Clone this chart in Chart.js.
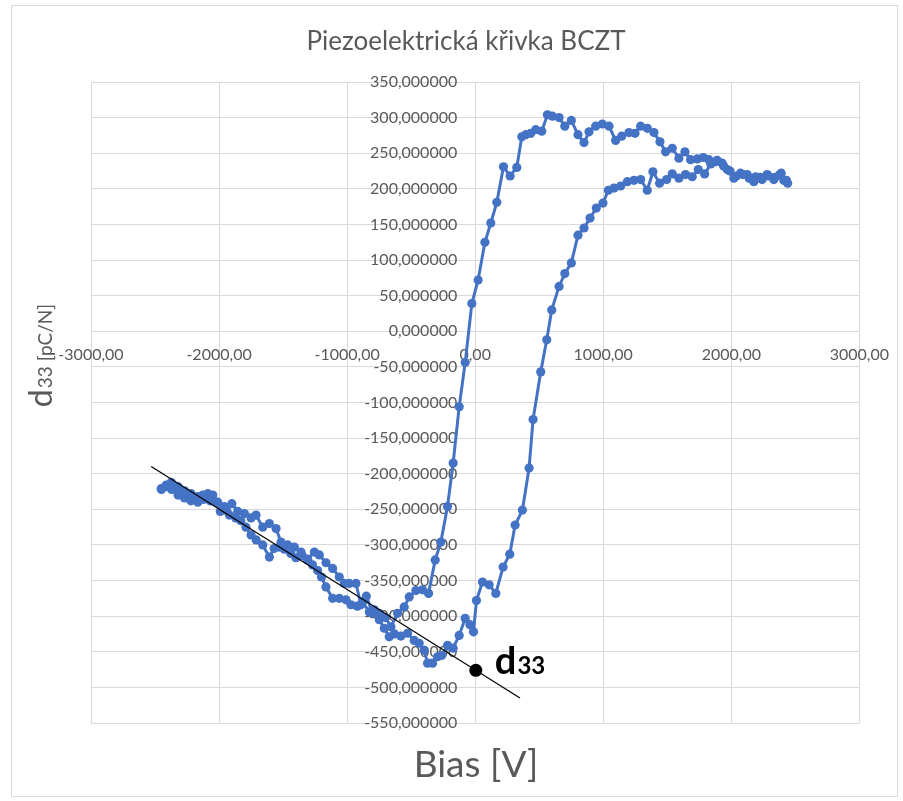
<!DOCTYPE html>
<html>
<head>
<meta charset="utf-8">
<script src="https://cdn.jsdelivr.net/npm/chart.js@4.4.1/dist/chart.umd.min.js"></script>
<style>
  html, body { margin: 0; padding: 0; background: #fff; }
  #wrap { width: 903px; height: 801px; position: relative; }
</style>
</head>
<body>
<div id="wrap"><canvas id="piezoChart" width="903" height="801"></canvas></div>
<script>
// lower branch, bias swept from -2450 V up to +2450 V
const biasAsc = [-2450, -2410, -2370, -2320, -2270, -2220, -2166, -2120, -2070, -2023, -1990, -1940, -1919, -1870, -1830, -1790, -1750, -1710, -1659, -1607, -1570, -1530, -1490, -1440, -1400, -1350, -1308, -1270, -1230, -1200, -1165, -1113, -1061, -1009, -970, -920, -879, -827, -788, -749, -710, -671, -630, -580, -528, -476, -437, -398, -372, -333, -294, -260, -216, -172, -125, -78, -41, -13, 10, 57, 109, 161, 218, 270, 312, 369, 421, 452, 512, 559, 598, 655, 700, 751, 803, 850, 897, 946, 998, 1040, 1084, 1136, 1188, 1240, 1292, 1344, 1388, 1440, 1495, 1539, 1591, 1643, 1695, 1742, 1792, 1840, 1890, 1940, 1990, 2040, 2090, 2140, 2190, 2240, 2290, 2340, 2390, 2430];
const d33Asc = [-222, -218, -222, -230, -234, -238, -240, -236, -238, -240, -253, -252, -258, -262, -266, -275, -286, -293, -300, -317, -305, -303, -306, -312, -318, -315, -321, -328, -336, -345, -359, -375, -375, -377, -384, -386, -380, -394, -391, -405, -417, -429, -425, -428, -424, -434, -438, -448, -466, -466, -457, -455, -441, -445, -427, -403, -412, -422, -378, -352, -356, -368, -331, -313, -272, -251, -192, -124, -57, -12, 30, 63, 81, 96, 135, 145, 159, 173, 180, 198, 201, 204, 210, 212, 213, 198, 224, 208, 213, 221, 215, 220, 217, 227, 221, 235, 240, 232, 225, 218, 220, 215, 217, 213, 218, 216, 222, 212];

// upper branch, bias swept back from +2450 V down to -2450 V
const biasDesc = [2440, 2410, 2379, 2332, 2280, 2228, 2176, 2124, 2072, 2020, 1968, 1929, 1877, 1825, 1781, 1734, 1682, 1638, 1591, 1539, 1487, 1443, 1396, 1344, 1292, 1248, 1201, 1144, 1097, 1045, 993, 941, 889, 850, 803, 751, 700, 655, 603, 564, 520, 473, 434, 395, 364, 325, 273, 221, 169, 122, 76, 23, -26, -78, -125, -172, -216, -268, -312, -364, -411, -463, -515, -554, -606, -658, -700, -749, -801, -850, -892, -931, -983, -1022, -1061, -1113, -1165, -1217, -1256, -1308, -1360, -1412, -1464, -1516, -1555, -1607, -1659, -1711, -1750, -1802, -1854, -1900, -1958, -2010, -2049, -2088, -2127, -2166, -2218, -2270, -2322, -2374, -2413, -2452];
const d33Desc = [208, 212, 220, 213, 220, 216, 210, 220, 222, 215, 227, 236, 238, 241, 244, 242, 241, 252, 243, 257, 252, 266, 279, 285, 288, 278, 279, 274, 268, 288, 291, 288, 280, 265, 276, 296, 288, 300, 302, 304, 281, 283, 278, 276, 273, 230, 218, 231, 181, 152, 125, 72, 39, -44, -106, -185, -246, -296, -321, -368, -363, -364, -373, -387, -396, -415, -402, -396, -396, -372, -384, -354, -354, -354, -345, -333, -325, -314, -310, -320, -310, -303, -300, -296, -277, -270, -275, -258, -262, -256, -253, -242, -246, -240, -230, -228, -230, -232, -228, -224, -218, -212, -216, -221];

// linear fit of the negative-bias part and the d33 read-off point at 0 V
const trendBias = [-2530, 350];
const trendD33 = [-190, -515];
const d33Bias = [5];
const d33Value = [-476];

const gray = '#595959';
const blue = '#4472C4';

const loopPoints = biasAsc.map((b, i) => ({x: b, y: d33Asc[i]}))
    .concat(biasDesc.map((b, i) => ({x: b, y: d33Desc[i]})));
const trendPoints = trendBias.map((b, i) => ({x: b, y: trendD33[i]}));
const d33Points = d33Bias.map((b, i) => ({x: b, y: d33Value[i]}));

// texts that Chart.js cannot place the Excel way (titles, d33 label, frame)
const excelTexts = {
    id: 'excelTexts',
    afterDraw(chart) {
        const ctx = chart.ctx;
        ctx.save();
        ctx.strokeStyle = '#d9d9d9';
        ctx.lineWidth = 1;
        ctx.strokeRect(11.5, 5.5, 886, 791);

        ctx.fillStyle = gray;
        ctx.textBaseline = 'alphabetic';
        ctx.textAlign = 'center';
        ctx.font = '26px Lato';
        ctx.fillText('Piezoelektrická křivka BCZT', 466, 50);

        ctx.font = '37px Lato';
        ctx.fillText('Bias [V]', 476, 777);

        // y title: big "d", smaller "33 [pC/N]"
        ctx.save();
        ctx.translate(52, 356);
        ctx.rotate(-Math.PI / 2);
        ctx.textAlign = 'left';
        ctx.font = '32px Lato';
        const wD = ctx.measureText('d').width;
        ctx.font = '19px Lato';
        const wRest = ctx.measureText('33 [pC/N]').width;
        const start = -(wD + wRest) / 2;
        ctx.font = '32px Lato';
        ctx.fillText('d', start, 0);
        ctx.font = '19px Lato';
        ctx.fillText('33 [pC/N]', start + wD + 1, 0);
        ctx.restore();

        // d33 label next to the point
        const px = chart.scales.x.getPixelForValue(d33Bias[0]);
        const py = chart.scales.y.getPixelForValue(d33Value[0]);
        ctx.fillStyle = '#000';
        ctx.textAlign = 'left';
        ctx.font = 'bold 38px Lato';
        ctx.fillText('d', px + 19, py + 4);
        const w = ctx.measureText('d').width;
        ctx.font = 'bold 24px Lato';
        ctx.fillText('33', px + 20 + w, py + 4);
        ctx.restore();
    }
};

const ctx = document.getElementById('piezoChart').getContext('2d');
const piezoChart = new Chart(ctx, {
    type: 'scatter',
    data: {
        datasets: [
            {
                data: d33Points,
                pointRadius: 6.5,
                pointBackgroundColor: '#000',
                pointBorderWidth: 0,
                order: 0
            },
            {
                data: trendPoints,
                showLine: true,
                borderColor: '#000',
                borderWidth: 1.2,
                pointRadius: 0,
                order: 1
            },
            {
                data: loopPoints,
                showLine: true,
                borderColor: blue,
                borderWidth: 3,
                pointRadius: 4.6,
                pointBackgroundColor: blue,
                pointBorderColor: blue,
                pointBorderWidth: 0,
                order: 2
            }
        ]
    },
    options: {
        responsive: false,
        animation: false,
        layout: {
            padding: {left: 91, top: 82, right: 42, bottom: 78}
        },
        plugins: {
            legend: {display: false},
            tooltip: {enabled: false},
            title: {display: false}
        },
        scales: {
            x: {
                type: 'linear',
                position: {y: 0},
                min: -3000,
                max: 3000,
                grid: {color: '#d9d9d9', drawTicks: false},
                border: {color: '#d9d9d9'},
                ticks: {
                    stepSize: 1000,
                    autoSkip: false,
                    maxRotation: 0,
                    padding: 14,
                    color: gray,
                    font: {family: 'Lato', size: 16},
                    callback: v => v.toFixed(2).replace('.', ',')
                }
            },
            y: {
                type: 'linear',
                // labels sit ~18px left of the 0 V line, like Excel
                position: {x: -140},
                min: -550,
                max: 350,
                grid: {color: '#d9d9d9', drawTicks: false},
                border: {display: false},
                ticks: {
                    stepSize: 50,
                    autoSkip: false,
                    color: gray,
                    font: {family: 'Lato', size: 16},
                    callback: v => v.toFixed(6).replace('.', ',')
                }
            }
        }
    },
    plugins: [excelTexts]
});
</script>
</body>
</html>
